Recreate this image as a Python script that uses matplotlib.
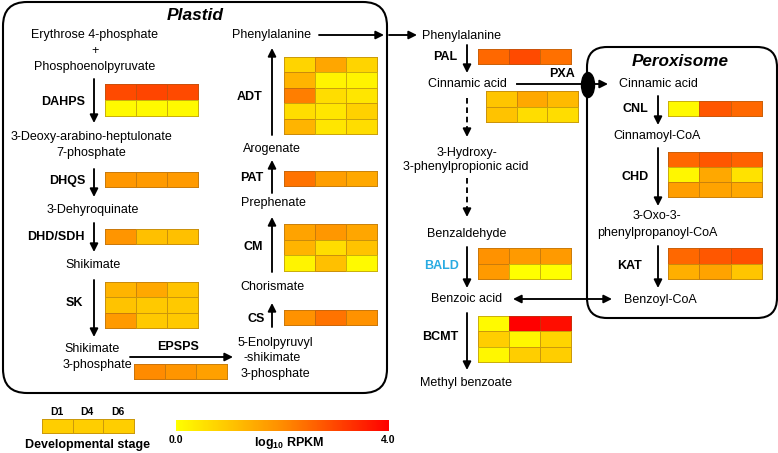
import numpy as np
import matplotlib
matplotlib.use('Agg')
import matplotlib.pyplot as plt
from matplotlib.patches import FancyBboxPatch, Ellipse
from matplotlib.colors import LinearSegmentedColormap, Normalize
from matplotlib.cm import ScalarMappable

plt.rcParams['font.family'] = ['Liberation Sans', 'DejaVu Sans']
plt.rcParams['mathtext.fontset'] = 'custom'
plt.rcParams['mathtext.rm'] = 'Liberation Sans'
plt.rcParams['mathtext.bf'] = 'Liberation Sans:bold'

# log10 RPKM per gene copy (rows) and developmental stage D1, D4, D6 (cols)
stages = ['D1', 'D4', 'D6']
dahps = [[2.95, 3.0, 2.95], [0.1, 0.1, 0.1]]
dhqs = [[1.8, 1.75, 1.75]]
dhd_sdh = [[1.85, 1.1, 1.1]]
sk = [[1.3, 1.5, 1.05], [1.05, 0.95, 0.95], [1.75, 0.95, 0.95]]
epsps = [[2.0, 1.85, 1.65]]
adt = [[0.75, 1.55, 0.75], [1.3, 0.2, 0.2], [2.2, 0.6, 0.45],
       [0.6, 0.45, 0.8], [1.3, 0.45, 0.6]]
pat = [[2.35, 1.7, 1.5]]
cm = [[1.6, 1.8, 1.55], [1.3, 0.6, 1.05], [0.2, 1.1, 0.1]]
cs = [[1.9, 2.35, 1.9]]
pal = [[2.5, 2.95, 2.4]]
pxa = [[1.0, 1.5, 1.2], [1.05, 0.6, 0.6]]
cnl = [[0.1, 2.75, 2.5]]
chd = [[2.5, 2.75, 2.6], [0.15, 1.5, 0.5], [1.7, 1.6, 1.5]]
kat = [[2.5, 2.75, 2.85], [1.4, 1.6, 1.0]]
bald = [[1.9, 1.75, 1.75], [1.75, 0.0, 0.0]]
bcmt = [[0.1, 4.0, 3.8], [0.85, 0.15, 0.75], [0.15, 0.85, 0.85]]
legend_cells = [[0.85, 0.85, 0.85]]
vmin, vmax = 0.0, 4.0

cmap = LinearSegmentedColormap.from_list('ylrd', ['#ffff00', '#ff8c00', '#ff0000'])

fig = plt.figure(figsize=(7.78, 4.53), dpi=100)
ax = fig.add_axes([0, 0, 1, 1])
ax.set_xlim(0, 778)
ax.set_ylim(453, 0)
ax.axis('off')

LW_ARROW = 1.35


def txt(x, y, s, bold=False, size=9, **kw):
    ax.text(x, y, s, ha='center', va='center', fontsize=size,
            fontweight='bold' if bold else 'normal', **kw)


def arrow(x1, y1, x2, y2, both=False):
    ax.annotate('', xy=(x2, y2), xytext=(x1, y1),
                arrowprops=dict(arrowstyle='<|-|>' if both else '-|>',
                                color='black', lw=LW_ARROW,
                                mutation_scale=12, shrinkA=0, shrinkB=0))


def dashed_arrow(x, y1, y2):
    ax.plot([x, x], [y1, y2 - 6], color='black', lw=LW_ARROW, ls=(0, (3, 2)))
    arrow(x, y2 - 7, x, y2)


def heat(data, x0, x1, y0, y1):
    data = np.asarray(data)
    nr, nc = data.shape
    X = np.linspace(x0, x1, nc + 1)
    Y = np.linspace(y0, y1, nr + 1)
    ax.pcolormesh(X, Y, data, cmap=cmap, vmin=vmin, vmax=vmax,
                  edgecolors=(0.55, 0.35, 0.1, 0.45), linewidth=0.6)


def box(x0, y0, x1, y1, r):
    ax.add_patch(FancyBboxPatch((x0, y0), x1 - x0, y1 - y0,
                                boxstyle='round,pad=0,rounding_size=%d' % r,
                                facecolor='none', edgecolor='black', lw=1.5))


# ── compartments ──
box(3, 2, 387, 393, 24)
box(587, 47, 777, 318, 20)
ax.text(195, 15, 'Plastid', ha='center', va='center', fontsize=12.5,
        fontweight='bold', style='italic')
ax.text(680, 61, 'Peroxisome', ha='center', va='center', fontsize=12.3,
        fontweight='bold', style='italic')

# ── shikimate pathway (left column) ──
txt(95, 35, 'Erythrose 4-phosphate')
txt(95, 51, '+')
txt(95, 67, 'Phosphoenolpyruvate')
arrow(94, 79, 94, 123)
txt(63, 102, 'DAHPS', bold=True)
heat(dahps, 105, 198, 84, 116)

txt(91, 137, '3-Deoxy-arabino-heptulonate')
txt(91, 153, '7-phosphate')
arrow(94, 169, 94, 197)
txt(67, 181, 'DHQS', bold=True)
heat(dhqs, 105, 198, 172, 187)

txt(93, 210, '3-Dehyroquinate')
arrow(94, 223, 94, 252)
txt(56, 237, 'DHD/SDH', bold=True)
heat(dhd_sdh, 105, 198, 229, 244)

txt(93, 265, 'Shikimate')
arrow(94, 280, 94, 337)
txt(74, 303, 'SK', bold=True)
heat(sk, 105, 198, 282, 328)

txt(92, 349, 'Shikimate')
txt(97, 365, '3-phosphate')
arrow(130, 357, 233, 357)
txt(178, 347, 'EPSPS', bold=True)
heat(epsps, 134, 227, 364, 379)

# ── right column of plastid ──
txt(275, 343, '5-Enolpyruvyl')
txt(272, 358, '-shikimate')
txt(275, 374, '3-phosphate')
arrow(272, 327, 272, 303)
txt(256, 319, 'CS', bold=True)
heat(cs, 284, 377, 310, 325)

txt(272, 287, 'Chorismate')
arrow(272, 272, 272, 217)
txt(253, 247, 'CM', bold=True)
heat(cm, 284, 377, 224, 271)

txt(273, 203, 'Prephenate')
arrow(272, 193, 272, 160)
txt(252, 178, 'PAT', bold=True)
heat(pat, 284, 377, 171, 186)

txt(272, 149, 'Arogenate')
arrow(272, 135, 272, 48)
txt(250, 97, 'ADT', bold=True)
heat(adt, 284, 377, 57, 134)

txt(272, 35, 'Phenylalanine')
arrow(319, 35, 384, 35)
arrow(389, 35, 417, 35)

# ── cytosol ──
txt(462, 36, 'Phenylalanine')
arrow(467, 45, 467, 73)
txt(445, 57, 'PAL', bold=True)
heat(pal, 478, 571, 49, 64)

txt(467, 84, 'Cinnamic acid')
ax.plot([517, 583], [84, 84], color='black', lw=LW_ARROW)
ax.add_patch(Ellipse((588, 85), 13, 25, facecolor='black', edgecolor='black'))
txt(562, 74, 'PXA', bold=True)
heat(pxa, 486, 578, 91, 122)

dashed_arrow(467, 98, 137)
txt(467, 153, '3-Hydroxy-')
txt(466, 167, '3-phenylpropionic acid')
dashed_arrow(467, 178, 217)

txt(467, 234, 'Benzaldehyde')
arrow(467, 247, 467, 288)
txt(442, 266, 'BALD', bold=True, color='#29abe2')
heat(bald, 478, 571, 248, 279)

txt(467, 299, 'Benzoic acid')
arrow(513, 299, 612, 299, both=True)
arrow(467, 313, 467, 370)
txt(440, 337, 'BCMT', bold=True)
heat(bcmt, 478, 571, 316, 362)
txt(466, 383, 'Methyl benzoate')

# ── peroxisome ──
arrow(594, 84, 608, 84)
txt(658, 84, 'Cinnamic acid')
arrow(658, 96, 658, 125)
txt(635, 109, 'CNL', bold=True)
heat(cnl, 668, 762, 101, 116)

txt(657, 136, 'Cinnamoyl-CoA')
arrow(658, 148, 658, 206)
txt(635, 177, 'CHD', bold=True)
heat(chd, 668, 762, 152, 197)

txt(657, 216, '3-Oxo-3-')
txt(657, 233, 'phenylpropanoyl-CoA')
arrow(658, 246, 658, 288)
txt(630, 266, 'KAT', bold=True)
heat(kat, 668, 762, 248, 279)
txt(660, 300, 'Benzoyl-CoA')

# ── legends ──
for sx, s in zip([57, 87, 118], stages):
    txt(sx, 412, s, bold=True, size=7.5)
heat(legend_cells, 42, 134, 419, 433)
txt(88, 445, 'Developmental stage', bold=True)

cax = fig.add_axes([176 / 778, 1 - 431 / 453, (389 - 176) / 778, 11 / 453])
cb = fig.colorbar(ScalarMappable(norm=Normalize(vmin, vmax), cmap=cmap),
                  cax=cax, orientation='horizontal')
cb.outline.set_visible(False)
cb.set_ticks([])
txt(176, 440, '%.1f' % vmin, bold=True, size=7.5)
txt(388, 440, '%.1f' % vmax, bold=True, size=7.5)
ax.text(289, 443, r'$\mathbf{log_{10}}$ RPKM', ha='center', va='center',
        fontsize=9, fontweight='bold')

fig.savefig('out.png', dpi=100, facecolor='white')
